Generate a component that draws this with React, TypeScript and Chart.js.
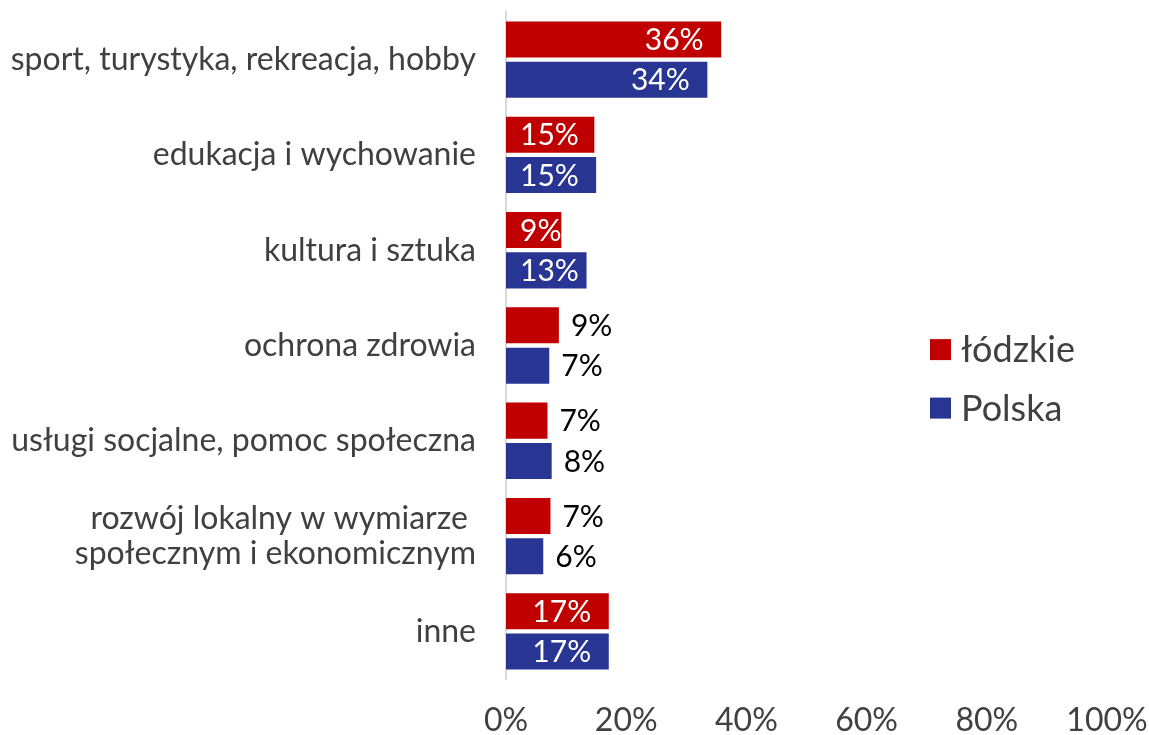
import React, { useEffect, useRef } from "react";
import { Chart, registerables } from "chart.js";

Chart.register(...registerables);

const categories: (string | string[])[] = [
  "sport, turystyka, rekreacja, hobby",
  "edukacja i wychowanie",
  "kultura i sztuka",
  "ochrona zdrowia",
  "usługi socjalne, pomoc społeczna",
  ["rozwój lokalny w wymiarze ", "społecznym i ekonomicznym"],
  "inne",
];
const seriesNames = ["łódzkie", "Polska"];
const lodzkie = [35.8, 14.7, 9.2, 8.8, 6.9, 7.4, 17.1];
const polska = [33.5, 15.0, 13.4, 7.2, 7.6, 6.2, 17.1];
const xTicks = [0, 20, 40, 60, 80, 100];
const colors = ["#C00000", "#283593"];

const FONT = "Lato, 'Noto Sans', sans-serif";

const labelPlugin = {
  id: "barLabels",
  afterDatasetsDraw(chart: any) {
    const ctx = chart.ctx;
    ctx.save();
    ctx.font = `30px ${FONT}`;
    ctx.textBaseline = "middle";
    chart.data.datasets.forEach((ds: any, di: number) => {
      const meta = chart.getDatasetMeta(di);
      meta.data.forEach((bar: any, i: number) => {
        const v = ds.data[i];
        const txt = Math.round(v) + "%";
        const w = ctx.measureText(txt).width;
        if (v >= 9) {
          ctx.fillStyle = "#ffffff";
          ctx.textAlign = "center";
          const cx = Math.max(bar.x - 47, bar.base + 14 + w / 2);
          ctx.fillText(txt, cx, bar.y + 1);
        } else {
          ctx.fillStyle = "#000000";
          ctx.textAlign = "left";
          ctx.fillText(txt, bar.x + 12, bar.y + 1);
        }
      });
    });
    ctx.restore();
  },
};

const legendPlugin = {
  id: "customLegend",
  afterDraw(chart: any) {
    const ctx = chart.ctx;
    const a = chart.chartArea;
    const x0 = a.left + (a.right - a.left) * 0.7055;
    const yMid = a.top + (a.bottom - a.top) * 0.55;
    ctx.save();
    ctx.font = `36px ${FONT}`;
    ctx.textBaseline = "middle";
    ctx.textAlign = "left";
    chart.data.datasets.forEach((ds: any, i: number) => {
      const y = yMid + (i - 0.5) * 58.5;
      ctx.fillStyle = ds.backgroundColor;
      ctx.fillRect(x0, y - 10.5, 21, 21);
      ctx.fillStyle = "#404040";
      ctx.fillText(ds.label, x0 + 31, y + 1);
    });
    ctx.restore();
  },
};

export default function App() {
  const ref = useRef<HTMLCanvasElement>(null);
  useEffect(() => {
    if (!ref.current) return;
    const chart = new Chart(ref.current, {
      type: "bar",
      data: {
        labels: categories,
        datasets: [
          { label: seriesNames[0], data: lodzkie, backgroundColor: colors[0], categoryPercentage: 0.847, barPercentage: 0.893 },
          { label: seriesNames[1], data: polska, backgroundColor: colors[1], categoryPercentage: 0.847, barPercentage: 0.893 },
        ],
      },
      options: {
        indexAxis: "y",
        animation: false,
        responsive: true,
        maintainAspectRatio: false,
        layout: { padding: { top: 12, right: 42, left: 0, bottom: 0 } },
        plugins: { legend: { display: false }, tooltip: { enabled: false } },
        scales: {
          x: {
            min: 0,
            max: 100,
            afterBuildTicks: (s: any) => {
              s.ticks = xTicks.map((v) => ({ value: v }));
            },
            afterFit: (s: any) => {
              s.height = 56;
              s.paddingLeft = 0;
              s.paddingRight = 0;
            },
            grid: { display: false, drawTicks: false },
            border: { display: false },
            ticks: {
              color: "#404040",
              font: { family: FONT, size: 32 },
              padding: 22,
              maxRotation: 0,
              callback: (v: any) => v + "%",
            },
          },
          y: {
            afterFit: (s: any) => {
              s.width = 506;
              s.paddingTop = 0;
              s.paddingBottom = 0;
            },
            grid: { display: false, drawTicks: false },
            border: { display: true, color: "#d9d9d9", width: 2 },
            ticks: {
              color: "#404040",
              font: { family: FONT, size: 32, lineHeight: 1.1 },
              padding: 30,
            },
          },
        },
      },
      plugins: [labelPlugin, legendPlugin],
    });
    return () => chart.destroy();
  }, []);
  return (
    <div style={{ position: "fixed", left: 0, top: 0, width: 1149, height: 735, background: "#fff" }}>
      <canvas ref={ref} />
    </div>
  );
}
